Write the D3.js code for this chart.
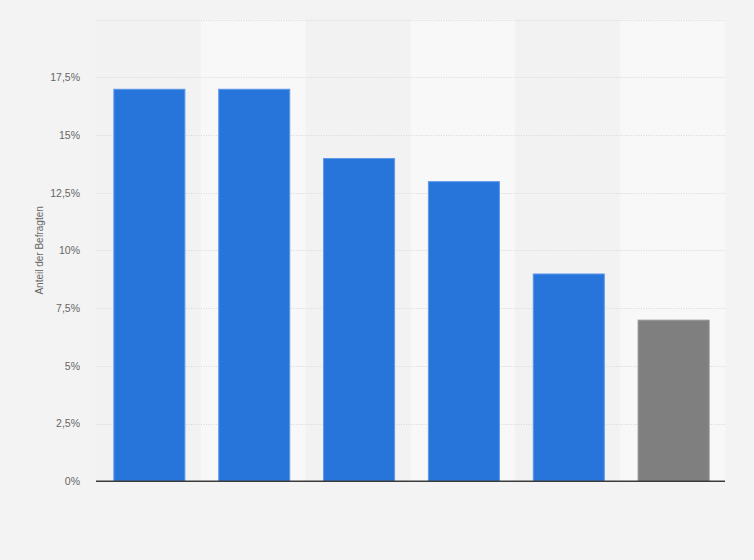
<!DOCTYPE html>
<html><head><meta charset="utf-8">
<script src="https://cdn.jsdelivr.net/npm/d3@7"></script>
<style>
html,body{margin:0;padding:0;background:#f3f3f3;}
svg{display:block;font-family:"Liberation Sans",Arial,sans-serif;}
</style></head>
<body>
<svg id="chart" width="754" height="560"></svg>
<script>
const categories = ["A","B","C","D","E","F"];
const values = [17, 17, 14, 13, 9, 7];
const barColors = ["#2775db","#2775db","#2775db","#2775db","#2775db","#7f7f7f"];
const tickValues = [0, 2.5, 5, 7.5, 10, 12.5, 15, 17.5, 20];
const tickLabels = ["0%","2,5%","5%","7,5%","10%","12,5%","15%","17,5%",""];
const yTitle = "Anteil der Befragten";

(function(){
const svg = d3.select("#chart");
const pLeft = 96, pRight = 725, pTop = 19.5, pBottom = 481.3;

const x = d3.scaleBand().domain(categories).range([pLeft + 1, pRight + 1]).paddingInner(0.313).paddingOuter(0.156);
const y = d3.scaleLinear().domain([0, 20]).range([pBottom, pTop]);

svg.append("rect").attr("width",754).attr("height",560).attr("fill","#f3f3f3");

// alternating column bands
const step = (pRight - pLeft) / categories.length;
svg.append("g").selectAll("rect").data(categories).join("rect")
  .attr("x", (d,i) => pLeft + i*step)
  .attr("y", pTop)
  .attr("width", step)
  .attr("height", pBottom - pTop)
  .attr("fill", (d,i) => i % 2 === 1 ? "#f8f8f8" : "#f2f2f2");

// grid
svg.append("g").selectAll("line").data(tickValues.filter(v => v > 0)).join("line")
  .attr("x1", pLeft).attr("x2", pRight)
  .attr("y1", d => Math.round(y(d)) + 0.5).attr("y2", d => Math.round(y(d)) + 0.5)
  .attr("stroke", "#d7d7d7").attr("stroke-width", 1).attr("stroke-dasharray", "1,1.5");

// y axis labels
const yAxis = d3.axisLeft(y).tickValues(tickValues).tickSize(0).tickPadding(0)
  .tickFormat((d,i) => tickLabels[i]);
const ga = svg.append("g").attr("transform", `translate(${pLeft-16},0)`).call(yAxis);
ga.select(".domain").remove();
ga.selectAll("text").attr("fill","#666").attr("font-size","10.5px")
  .attr("font-family","'Liberation Sans',Arial,sans-serif");

// bars
svg.append("g").selectAll("rect").data(values).join("rect")
  .attr("x", (d,i) => x(categories[i]) + 0.5)
  .attr("y", d => y(d) + 0.5)
  .attr("width", x.bandwidth() - 1)
  .attr("height", d => pBottom - y(d) - 0.5)
  .attr("fill", (d,i) => barColors[i])
  .attr("stroke", (d,i) => i === 5 ? "#959595" : "#5d98e8")
  .attr("stroke-width", 1);

// baseline
svg.append("line").attr("x1", pLeft).attr("x2", pRight)
  .attr("y1", pBottom).attr("y2", pBottom)
  .attr("stroke", "#3a3a3a").attr("stroke-width", 1.5);

// y title
svg.append("text")
  .attr("transform", `translate(43,${(pTop+pBottom)/2}) rotate(-90)`)
  .attr("text-anchor","middle")
  .attr("fill","#666").attr("font-size","10px")
  .text(yTitle);
})();
</script>
</body></html>
